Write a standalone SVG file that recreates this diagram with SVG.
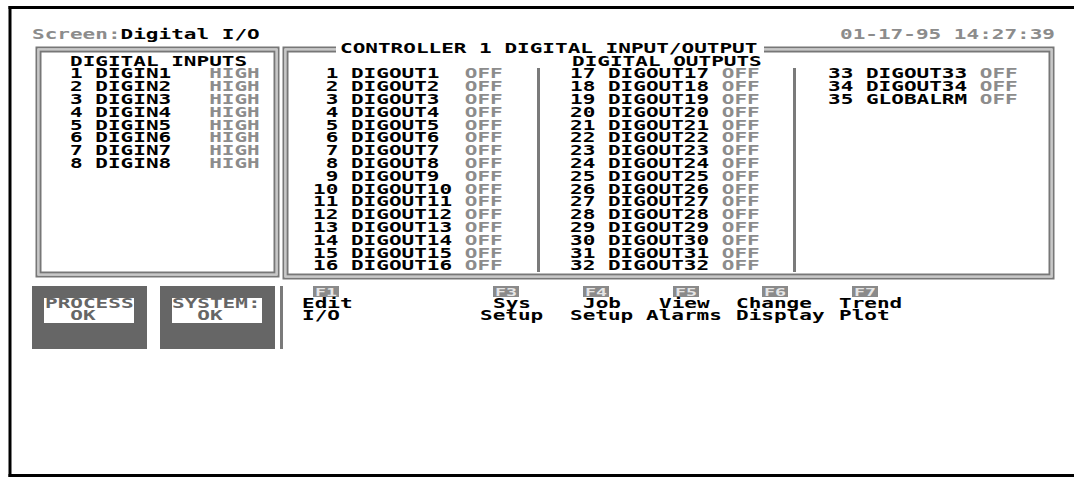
<svg xmlns="http://www.w3.org/2000/svg" width="1074" height="477" viewBox="0 0 1074 477">
<style>
.t{font-family:"DejaVu Sans Mono","Liberation Mono",monospace;font-size:14.5px;font-weight:bold;fill:#000;white-space:pre}
.g{fill:#8c8c8c}
.pg{fill:#666}
.fk{font-family:"DejaVu Sans Mono","Liberation Mono",monospace;font-size:11px;font-weight:bold;fill:#e6e6e6}
.bo{fill:none;stroke:#777;stroke-width:2}
.bi{fill:none;stroke:#c8c8c8;stroke-width:2}
.div{stroke:#7a7a7a;stroke-width:3}
.box{fill:#666}
.band{fill:#fff}
.fbox{fill:#8a8a8a}
</style>
<rect width="1074" height="477" fill="#fff"/>
<g id="frame" stroke="#000" stroke-width="3" fill="none">
<line x1="8.5" y1="7.5" x2="1074" y2="7.5"/>
<line x1="10" y1="6" x2="10" y2="477"/>
<line x1="8.5" y1="475.5" x2="1074" y2="475.5"/>
</g>
<g id="inputs-panel">
<rect class="bo" x="36.5" y="47.5" width="242" height="229"/>
<rect class="bi" x="38.5" y="49.5" width="238" height="225"/>
<rect class="bo" x="40.5" y="51.5" width="234" height="221"/>
</g>
<g id="outputs-panel">
<rect class="bo" x="283.5" y="47.5" width="770" height="231"/>
<rect class="bi" x="285.5" y="49.5" width="766" height="227"/>
<rect class="bo" x="287.5" y="51.5" width="762" height="223"/>
<rect x="336" y="43" width="428" height="13" fill="#fff"/>
<line class="div" x1="538.5" y1="68" x2="538.5" y2="272"/>
<line class="div" x1="794.5" y1="68" x2="794.5" y2="272"/>
</g>
<g id="status-boxes">
<rect class="box" x="32" y="286" width="115" height="63"/>
<rect class="band" x="44" y="298" width="90" height="25"/>
<rect class="box" x="160" y="286" width="115" height="63"/>
<rect class="band" x="172" y="298" width="90" height="25"/>
<line class="div" x1="281.5" y1="286" x2="281.5" y2="349"/>
</g>
<g id="fkeys">
<rect class="fbox" x="313" y="286" width="26" height="11"/>
<rect class="fbox" x="493" y="286" width="26" height="11"/>
<rect class="fbox" x="583" y="286" width="26" height="11"/>
<rect class="fbox" x="673" y="286" width="26" height="11"/>
<rect class="fbox" x="762" y="286" width="26" height="11"/>
<rect class="fbox" x="852" y="286" width="26" height="11"/>
<text class="fk" x="315" y="296" textLength="22" lengthAdjust="spacingAndGlyphs">F1</text>
<text class="fk" x="495" y="296" textLength="22" lengthAdjust="spacingAndGlyphs">F3</text>
<text class="fk" x="585" y="296" textLength="22" lengthAdjust="spacingAndGlyphs">F4</text>
<text class="fk" x="675" y="296" textLength="22" lengthAdjust="spacingAndGlyphs">F5</text>
<text class="fk" x="764" y="296" textLength="22" lengthAdjust="spacingAndGlyphs">F6</text>
<text class="fk" x="854" y="296" textLength="22" lengthAdjust="spacingAndGlyphs">F7</text>
</g>
<g id="texts" transform="scale(1.45 1)">
<text class="t" x="22.07" y="39.5"><tspan class="g">Screen:</tspan>Digital I/O</text>
<text class="t g" x="579.31" y="39.5">01-17-95 14:27:39</text>
<text class="t" x="234.48" y="52.8">CONTROLLER 1 DIGITAL INPUT/OUTPUT</text>
<text class="t" x="48.28" y="65.7">DIGITAL INPUTS</text>
<text class="t" x="394.48" y="65.7">DIGITAL OUTPUTS</text>
<text class="t" x="48.28" y="78.5">1 DIGIN1   <tspan class="g">HIGH</tspan></text>
<text class="t" x="48.28" y="91.3">2 DIGIN2   <tspan class="g">HIGH</tspan></text>
<text class="t" x="48.28" y="104.1">3 DIGIN3   <tspan class="g">HIGH</tspan></text>
<text class="t" x="48.28" y="116.9">4 DIGIN4   <tspan class="g">HIGH</tspan></text>
<text class="t" x="48.28" y="129.7">5 DIGIN5   <tspan class="g">HIGH</tspan></text>
<text class="t" x="48.28" y="142.5">6 DIGIN6   <tspan class="g">HIGH</tspan></text>
<text class="t" x="48.28" y="155.3">7 DIGIN7   <tspan class="g">HIGH</tspan></text>
<text class="t" x="48.28" y="168.1">8 DIGIN8   <tspan class="g">HIGH</tspan></text>
<text class="t" x="215.86" y="78.5"> 1 DIGOUT1  <tspan class="g">OFF</tspan></text>
<text class="t" x="215.86" y="91.3"> 2 DIGOUT2  <tspan class="g">OFF</tspan></text>
<text class="t" x="215.86" y="104.1"> 3 DIGOUT3  <tspan class="g">OFF</tspan></text>
<text class="t" x="215.86" y="116.9"> 4 DIGOUT4  <tspan class="g">OFF</tspan></text>
<text class="t" x="215.86" y="129.7"> 5 DIGOUT5  <tspan class="g">OFF</tspan></text>
<text class="t" x="215.86" y="142.5"> 6 DIGOUT6  <tspan class="g">OFF</tspan></text>
<text class="t" x="215.86" y="155.3"> 7 DIGOUT7  <tspan class="g">OFF</tspan></text>
<text class="t" x="215.86" y="168.1"> 8 DIGOUT8  <tspan class="g">OFF</tspan></text>
<text class="t" x="215.86" y="180.9"> 9 DIGOUT9  <tspan class="g">OFF</tspan></text>
<text class="t" x="215.86" y="193.7">10 DIGOUT10 <tspan class="g">OFF</tspan></text>
<text class="t" x="215.86" y="206.5">11 DIGOUT11 <tspan class="g">OFF</tspan></text>
<text class="t" x="215.86" y="219.3">12 DIGOUT12 <tspan class="g">OFF</tspan></text>
<text class="t" x="215.86" y="232.1">13 DIGOUT13 <tspan class="g">OFF</tspan></text>
<text class="t" x="215.86" y="244.9">14 DIGOUT14 <tspan class="g">OFF</tspan></text>
<text class="t" x="215.86" y="257.7">15 DIGOUT15 <tspan class="g">OFF</tspan></text>
<text class="t" x="215.86" y="270.5">16 DIGOUT16 <tspan class="g">OFF</tspan></text>
<text class="t" x="393.10" y="78.5">17 DIGOUT17 <tspan class="g">OFF</tspan></text>
<text class="t" x="393.10" y="91.3">18 DIGOUT18 <tspan class="g">OFF</tspan></text>
<text class="t" x="393.10" y="104.1">19 DIGOUT19 <tspan class="g">OFF</tspan></text>
<text class="t" x="393.10" y="116.9">20 DIGOUT20 <tspan class="g">OFF</tspan></text>
<text class="t" x="393.10" y="129.7">21 DIGOUT21 <tspan class="g">OFF</tspan></text>
<text class="t" x="393.10" y="142.5">22 DIGOUT22 <tspan class="g">OFF</tspan></text>
<text class="t" x="393.10" y="155.3">23 DIGOUT23 <tspan class="g">OFF</tspan></text>
<text class="t" x="393.10" y="168.1">24 DIGOUT24 <tspan class="g">OFF</tspan></text>
<text class="t" x="393.10" y="180.9">25 DIGOUT25 <tspan class="g">OFF</tspan></text>
<text class="t" x="393.10" y="193.7">26 DIGOUT26 <tspan class="g">OFF</tspan></text>
<text class="t" x="393.10" y="206.5">27 DIGOUT27 <tspan class="g">OFF</tspan></text>
<text class="t" x="393.10" y="219.3">28 DIGOUT28 <tspan class="g">OFF</tspan></text>
<text class="t" x="393.10" y="232.1">29 DIGOUT29 <tspan class="g">OFF</tspan></text>
<text class="t" x="393.10" y="244.9">30 DIGOUT30 <tspan class="g">OFF</tspan></text>
<text class="t" x="393.10" y="257.7">31 DIGOUT31 <tspan class="g">OFF</tspan></text>
<text class="t" x="393.10" y="270.5">32 DIGOUT32 <tspan class="g">OFF</tspan></text>
<text class="t" x="571.03" y="78.5">33 DIGOUT33 <tspan class="g">OFF</tspan></text>
<text class="t" x="571.03" y="91.3">34 DIGOUT34 <tspan class="g">OFF</tspan></text>
<text class="t" x="571.03" y="104.1">35 GLOBALRM <tspan class="g">OFF</tspan></text>
<text class="t pg" x="31.03" y="308.5">PROCESS</text>
<text class="t pg" x="48.48" y="320">OK</text>
<text class="t pg" x="118.62" y="308.5">SYSTEM:</text>
<text class="t pg" x="136.07" y="320">OK</text>
<text class="t" x="208.28" y="308.5">Edit</text>
<text class="t" x="208.28" y="320">I/O</text>
<text class="t" x="340.00" y="308.5">Sys</text>
<text class="t" x="331.03" y="320">Setup</text>
<text class="t" x="402.07" y="308.5">Job</text>
<text class="t" x="393.10" y="320">Setup</text>
<text class="t" x="454.48" y="308.5">View</text>
<text class="t" x="445.52" y="320">Alarms</text>
<text class="t" x="507.59" y="308.5">Change</text>
<text class="t" x="507.59" y="320">Display</text>
<text class="t" x="578.62" y="308.5">Trend</text>
<text class="t" x="578.62" y="320">Plot</text>
</g>
</svg>
